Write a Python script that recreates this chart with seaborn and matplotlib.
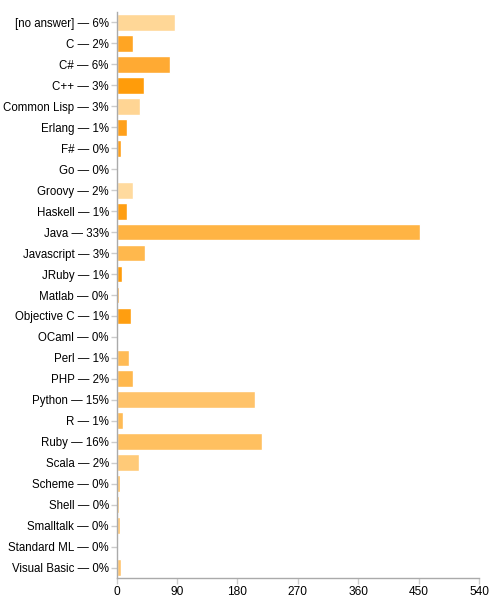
import matplotlib
matplotlib.use("Agg")
import matplotlib.pyplot as plt
import seaborn as sns
import pandas as pd

languages = ["[no answer]", "C", "C#", "C++", "Common Lisp", "Erlang", "F#", "Go",
             "Groovy", "Haskell", "Java", "Javascript", "JRuby", "Matlab",
             "Objective C", "OCaml", "Perl", "PHP", "Python", "R", "Ruby", "Scala",
             "Scheme", "Shell", "Smalltalk", "Standard ML", "Visual Basic"]
counts = [87, 24, 79, 41, 35, 15, 6, 0, 25, 15, 452, 43, 8, 4, 21, 2, 18, 25,
          206, 9, 217, 33, 5, 4, 5, 2, 6]
percents = ["6%", "2%", "6%", "3%", "3%", "1%", "0%", "0%", "2%", "1%", "33%", "3%",
            "1%", "0%", "1%", "0%", "1%", "2%", "15%", "1%", "16%", "2%", "0%", "0%",
            "0%", "0%", "0%"]
colors = ["#FFD797", "#FFA523", "#FFAA33", "#FF9C0A", "#FFD594", "#FFA01A", "#FFA01A",
          "#FFA01A", "#FFDA9E", "#FF9E12", "#FFB444", "#FFB84D", "#FF9C0A", "#FFA530",
          "#FF9E10", "#FFD594", "#FFBB55", "#FFB84D", "#FFC36A", "#FFBB55", "#FFC060",
          "#FFCA78", "#FFC060", "#FFC060", "#FFC36A", "#FFCC80", "#FFC46E"]
x_ticks = [0, 90, 180, 270, 360, 450, 540]

labels = [f"{l} \u2014 {p}" for l, p in zip(languages, percents)]
df = pd.DataFrame({"label": labels, "count": counts})

sns.set_theme(style="white")
plt.rcParams["font.family"] = ["Liberation Sans", "DejaVu Sans"]

fig = plt.figure(figsize=(4.9, 6.0), dpi=100)
ax = fig.add_axes([116.5 / 490, 1 - 578 / 600, (479 - 116.5) / 490, (578 - 12) / 600])

sns.barplot(data=df, x="count", y="label", hue="label", palette=colors,
            orient="h", width=0.8, legend=False, ax=ax, saturation=1)

ax.set_xlim(0, 540)
ax.set_ylim(len(labels) - 0.5, -0.5)
ax.set_xticks(x_ticks)
ax.set_xlabel("")
ax.set_ylabel("")

for side in ["top", "right"]:
    ax.spines[side].set_visible(False)
for side in ["left", "bottom"]:
    ax.spines[side].set_color("#aaaaaa")
    ax.spines[side].set_linewidth(1.0)

ax.tick_params(axis="both", which="both", length=4, width=1, color="#cccccc",
               labelsize=8.3, labelcolor="#000000")
ax.tick_params(axis="y", pad=1.5, left=True)
ax.tick_params(axis="x", pad=2, bottom=True, labelsize=8.6)

fig.savefig("out.png", dpi=100)
